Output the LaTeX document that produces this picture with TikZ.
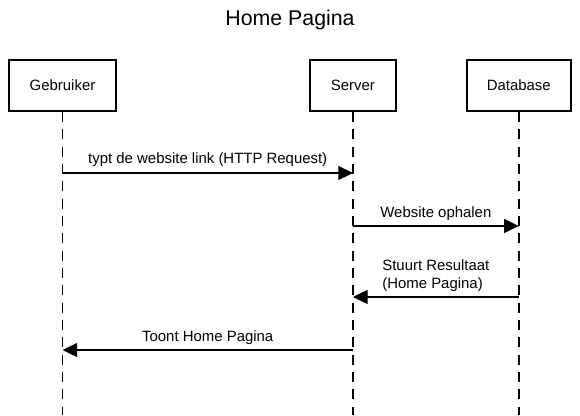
\documentclass[tikz,border=0pt]{standalone}
\usepackage{fontspec}
\setmainfont{Liberation Sans}
\usetikzlibrary{positioning, arrows.meta}
\tikzset{
    x=0.75pt, y=-0.75pt, % one unit is one pixel of the reference, y runs down
    node distance=144pt, % gap between the first two boxes
    actor/.style={draw, line width=1.6pt, minimum height=38pt, font=\fontsize{11.2}{13}\selectfont}, % the boxes on top
    lifeline/.style={dash pattern=on 7.5pt off 5.5pt, line width=1.1pt}, % dashed line under each box
    msg/.style={-{Triangle[length=11pt, width=10.5pt]}, line width=0.9pt}, % a message between two lifelines
    msglabel/.style={above=0pt, font=\fontsize{11.2}{14}\selectfont, align=left},
    }
\begin{document}
\begin{tikzpicture}
            \useasboundingbox (0,0) rectangle (580,415);
            \node[font=\fontsize{16}{19}\selectfont] (title) at (290,20) {Home Pagina};
            \node[actor, minimum width=80pt] (gebruiker) at (62.5,85.5) {Gebruiker};
            \node[actor, minimum width=64.5pt, right=of gebruiker] (server) {Server};
            \node[actor, minimum width=78pt, right=51.5pt of server] (database) {Database};
            \coordinate (bottom) at (0,415);
            \foreach \who in {gebruiker, server, database}
                \draw[lifeline] (\who.south) -- (\who.south |- bottom);
            \coordinate (m1) at (0,173);
            \coordinate (m2) at (0,226);
            \coordinate (m3) at (0,297);
            \coordinate (m4) at (0,350);
            \draw[msg] (gebruiker |- m1) -- node[msglabel, above=1pt]{typt de website link (HTTP Request)} (server |- m1);
            \draw[msg] (server |- m2) -- node[msglabel]{Website ophalen} (database |- m2);
            \draw[msg] (database |- m3) -- node[msglabel]{Stuurt Resultaat\\(Home Pagina)} (server |- m3);
            \draw[msg] (server |- m4) -- node[msglabel]{Toont Home Pagina} (gebruiker |- m4);
\end{tikzpicture}
\end{document}
